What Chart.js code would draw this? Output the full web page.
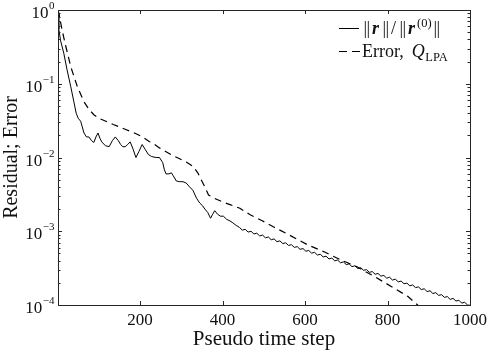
<!DOCTYPE html>
<html>
<head>
<meta charset="utf-8">
<script src="https://cdn.jsdelivr.net/npm/chart.js@4"></script>
<style>
  body { margin: 0; background: #fff; }
  canvas { display: block; }
</style>
</head>
<body>
<canvas id="chart" width="498" height="352"></canvas>
<script>
// tick labels
const xTickValues = [200, 400, 600, 800, 1000];
const yTickExponents = [0, -1, -2, -3, -4];

// residual ||r||/||r(0)||
const residualSteps = [1, 3, 7, 15, 23, 32, 40, 45, 50, 56, 64, 70, 76, 82, 88, 93, 98, 103, 108, 116,
  125, 133, 140, 147, 153, 158, 164, 170, 176, 183, 190, 197, 205, 212, 220, 228, 239, 247, 255, 259,
  263, 270, 276, 280, 288, 296, 304, 312, 320, 328, 337, 345, 352, 357, 364, 371, 376, 381, 388, 395,
  402, 410, 418, 425, 433,
  441, 448, 455, 462, 469, 476, 483, 490, 497, 504, 511, 518, 525, 532, 539, 546, 553, 560, 567, 574,
  581, 588, 595, 602, 609, 616, 623, 630, 637, 644, 651, 658, 665, 672, 679, 686, 693, 700, 707, 714,
  721, 728, 735, 742, 749, 756, 763, 770, 777, 784, 791, 798, 805, 812, 819, 826, 833, 840, 847, 854,
  861, 868, 875, 882, 889, 896, 903, 910, 917, 924, 931, 938, 945, 952, 959, 966, 973, 980, 987, 994, 1000];
const residualValues = [0.9, 0.55, 0.39, 0.26, 0.154, 0.091, 0.055, 0.040, 0.034, 0.031, 0.0215, 0.019, 0.019, 0.017, 0.016, 0.019, 0.0215, 0.018, 0.016, 0.0145,
  0.014, 0.017, 0.019, 0.017, 0.015, 0.014, 0.014, 0.015, 0.0163, 0.013, 0.010, 0.012, 0.015, 0.013, 0.011, 0.0103, 0.010, 0.0100, 0.0085, 0.0068,
  0.0060, 0.0060, 0.0062, 0.0057, 0.0048, 0.0047, 0.0047, 0.0045, 0.0040, 0.0036, 0.0028, 0.0024, 0.0022, 0.0020, 0.0018, 0.0015, 0.0017, 0.0019, 0.0017, 0.0016,
  0.0016, 0.00145, 0.00138, 0.00130, 0.00120,
  1.127e-3, 1.035e-3, 1.062e-3, 0.975e-3, 1.000e-3, 0.918e-3, 0.942e-3, 0.865e-3, 0.887e-3, 0.815e-3,
  0.836e-3, 0.767e-3, 0.787e-3, 0.722e-3, 0.741e-3, 0.680e-3, 0.698e-3, 0.641e-3, 0.658e-3, 0.604e-3,
  0.619e-3, 0.568e-3, 0.583e-3, 0.535e-3, 0.549e-3, 0.504e-3, 0.518e-3, 0.476e-3, 0.488e-3, 0.448e-3,
  0.459e-3, 0.421e-3, 0.433e-3, 0.397e-3, 0.407e-3, 0.374e-3, 0.384e-3, 0.353e-3, 0.361e-3, 0.331e-3,
  0.340e-3, 0.312e-3, 0.321e-3, 0.295e-3, 0.302e-3, 0.277e-3, 0.284e-3, 0.261e-3, 0.268e-3, 0.246e-3,
  0.252e-3, 0.231e-3, 0.238e-3, 0.218e-3, 0.224e-3, 0.206e-3, 0.211e-3, 0.194e-3, 0.198e-3, 0.182e-3,
  0.187e-3, 0.172e-3, 0.176e-3, 0.162e-3, 0.166e-3, 0.152e-3, 0.156e-3, 0.143e-3, 0.147e-3, 0.135e-3,
  0.138e-3, 0.127e-3, 0.130e-3, 0.119e-3, 0.123e-3, 0.113e-3, 0.116e-3, 0.106e-3, 0.109e-3, 0.100e-3, 0.099e-3];

// error, Q_LPA
const errorSteps = [1, 3, 11, 20, 32, 48, 56, 64, 76, 88, 100, 117, 135, 150, 165, 182, 194, 206, 222, 231,
  247, 263, 280, 296, 312, 328, 340, 348, 357, 366, 380, 400, 418, 442, 467, 495, 523, 560, 605, 645,
  686, 726, 767, 808, 849, 873, 900];
const errorValues = [1.0, 0.91, 0.53, 0.32, 0.17, 0.091, 0.072, 0.057, 0.045, 0.038, 0.034, 0.031, 0.028, 0.026, 0.024, 0.022, 0.0205, 0.019, 0.0165, 0.0156,
  0.0135, 0.012, 0.0106, 0.0096, 0.0087, 0.0076, 0.0062, 0.005, 0.0040, 0.0031, 0.0028, 0.0025, 0.0023, 0.00205, 0.00167, 0.00140, 0.00115, 0.00090, 0.00066, 0.00053,
  0.00041, 0.00033, 0.000245, 0.000180, 0.000131, 0.000100, 0.000072];

const SERIF = '"Liberation Serif", "Times New Roman", serif';
const AXIS = '#262626';
const TEXT = '#111';

// box, inward ticks, y labels with exponents, legend
const decorations = {
  id: 'decorations',
  afterDraw(chart) {
    const { ctx, chartArea: a } = chart;
    const xs = chart.scales.x, ys = chart.scales.y;
    ctx.save();
    ctx.strokeStyle = AXIS;
    ctx.lineWidth = 1;
    ctx.strokeRect(a.left + 0.5, a.top + 0.5, a.right - a.left, a.bottom - a.top);
    ctx.beginPath();
    xTickValues.forEach(v => {
      const px = Math.round(xs.getPixelForValue(v)) + 0.5;
      ctx.moveTo(px, a.bottom); ctx.lineTo(px, a.bottom - 4);
      ctx.moveTo(px, a.top); ctx.lineTo(px, a.top + 4);
    });
    yTickExponents.forEach(e => {
      const py = Math.round(ys.getPixelForValue(Math.pow(10, e))) + 0.5;
      ctx.moveTo(a.left, py); ctx.lineTo(a.left + 4, py);
      ctx.moveTo(a.right, py); ctx.lineTo(a.right - 4, py);
      if (e < 0) {
        for (let d = 2; d <= 9; d++) {
          const pm = Math.round(ys.getPixelForValue(d * Math.pow(10, e))) + 0.5;
          ctx.moveTo(a.left, pm); ctx.lineTo(a.left + 2.5, pm);
          ctx.moveTo(a.right, pm); ctx.lineTo(a.right - 2.5, pm);
        }
      }
    });
    ctx.stroke();

    // y tick labels 10^e
    ctx.fillStyle = TEXT;
    ctx.textBaseline = 'alphabetic';
    ctx.textAlign = 'left';
    yTickExponents.forEach(e => {
      const py = ys.getPixelForValue(Math.pow(10, e));
      const exp = e === 0 ? '0' : '\u2212' + (-e);
      ctx.font = '17px ' + SERIF;
      const wb = ctx.measureText('10').width;
      ctx.font = '11px ' + SERIF;
      const we = ctx.measureText(exp).width;
      const x0 = a.left - 4 - wb - we;
      ctx.font = '17px ' + SERIF;
      ctx.fillText('10', x0, py + 8);
      ctx.font = '11px ' + SERIF;
      ctx.fillText(exp, x0 + wb + 0.5, py - 1);
    });

    // legend
    const lx0 = 339, tx = 362;
    const row1 = 28, row2 = 51;
    ctx.strokeStyle = '#000';
    ctx.lineWidth = 1;
    ctx.beginPath();
    ctx.moveTo(lx0, row1 + 0.5); ctx.lineTo(lx0 + 20, row1 + 0.5);
    ctx.stroke();
    ctx.setLineDash([8, 5]);
    ctx.beginPath();
    ctx.moveTo(lx0, row2 + 0.5); ctx.lineTo(lx0 + 21, row2 + 0.5);
    ctx.stroke();
    ctx.setLineDash([]);

    const main = '18px ' + SERIF;
    const bold = 'italic bold 18px ' + SERIF;
    const small = '12.5px ' + SERIF;
    // '‖' tokens are drawn as a pair of bars
    const parts1 = [
      ['\u2016', main, 0], ['r', bold, 0], ['\u2016', main, 0], ['/', main, 0], ['\u2016', main, 0],
      ['r', bold, 0], ['(0)', small, -7], ['\u2016', main, 0]
    ];
    const parts2 = [
      ['Error,', main, 0], [' ', main, 0], ['Q', 'italic 18px ' + SERIF, 0], ['LPA', small, 3.5]
    ];
    [[parts1, row1 + 6], [parts2, row2 + 6]].forEach(([parts, base]) => {
      let x = tx;
      parts.forEach(([t, f, dy]) => {
        ctx.font = f;
        if (t === '\u2016') {
          ctx.fillText('|', x + 1.5, base + dy);
          ctx.fillText('|', x + 4.5, base + dy);
          x += 10;
        } else {
          ctx.fillText(t, x, base + dy);
          x += ctx.measureText(t).width + (t === ' ' ? 3 : (t === 'r' || t === '/') ? 2 : 0.5);
        }
      });
    });
    ctx.restore();
  }
};

new Chart(document.getElementById('chart'), {
  type: 'line',
  data: {
    datasets: [
      {
        label: '||r||/||r(0)||',
        data: residualSteps.map((s, i) => ({ x: s, y: residualValues[i] })),
        borderColor: '#000',
        borderWidth: 1,
        pointRadius: 0,
        tension: 0
      },
      {
        label: 'Error, Q_LPA',
        data: errorSteps.map((s, i) => ({ x: s, y: errorValues[i] })),
        borderColor: '#000',
        borderWidth: 1.2,
        borderDash: [7, 5],
        pointRadius: 0,
        tension: 0
      }
    ]
  },
  options: {
    responsive: false,
    animation: false,
    layout: { padding: { top: 10, right: 28, left: 0, bottom: 0 } },
    plugins: {
      legend: { display: false },
      tooltip: { enabled: false }
    },
    scales: {
      x: {
        type: 'linear',
        min: 1,
        max: 1000,
        grid: { display: false, drawTicks: false },
        border: { display: false },
        afterBuildTicks: (scale) => { scale.ticks = xTickValues.map(v => ({ value: v })); },
        afterFit: (scale) => { scale.height = 47; },
        ticks: {
          autoSkip: false,
          maxRotation: 0,
          padding: 5,
          color: TEXT,
          font: { family: SERIF, size: 17 },
          callback: (v) => String(v)
        },
        title: {
          display: true,
          text: 'Pseudo time step',
          color: TEXT,
          font: { family: SERIF, size: 21 },
          padding: { top: 0, bottom: 0 }
        }
      },
      y: {
        type: 'logarithmic',
        min: 1e-4,
        max: 1,
        grid: { display: false, drawTicks: false },
        border: { display: false },
        afterBuildTicks: (scale) => { scale.ticks = yTickExponents.map(e => ({ value: Math.pow(10, e) })); },
        afterFit: (scale) => { scale.width = 58; },
        ticks: { display: false },
        title: {
          display: true,
          text: 'Residual; Error',
          color: TEXT,
          font: { family: SERIF, size: 20 },
          padding: { top: 0, bottom: 0 }
        }
      }
    }
  },
  plugins: [decorations]
});
</script>
</body>
</html>
